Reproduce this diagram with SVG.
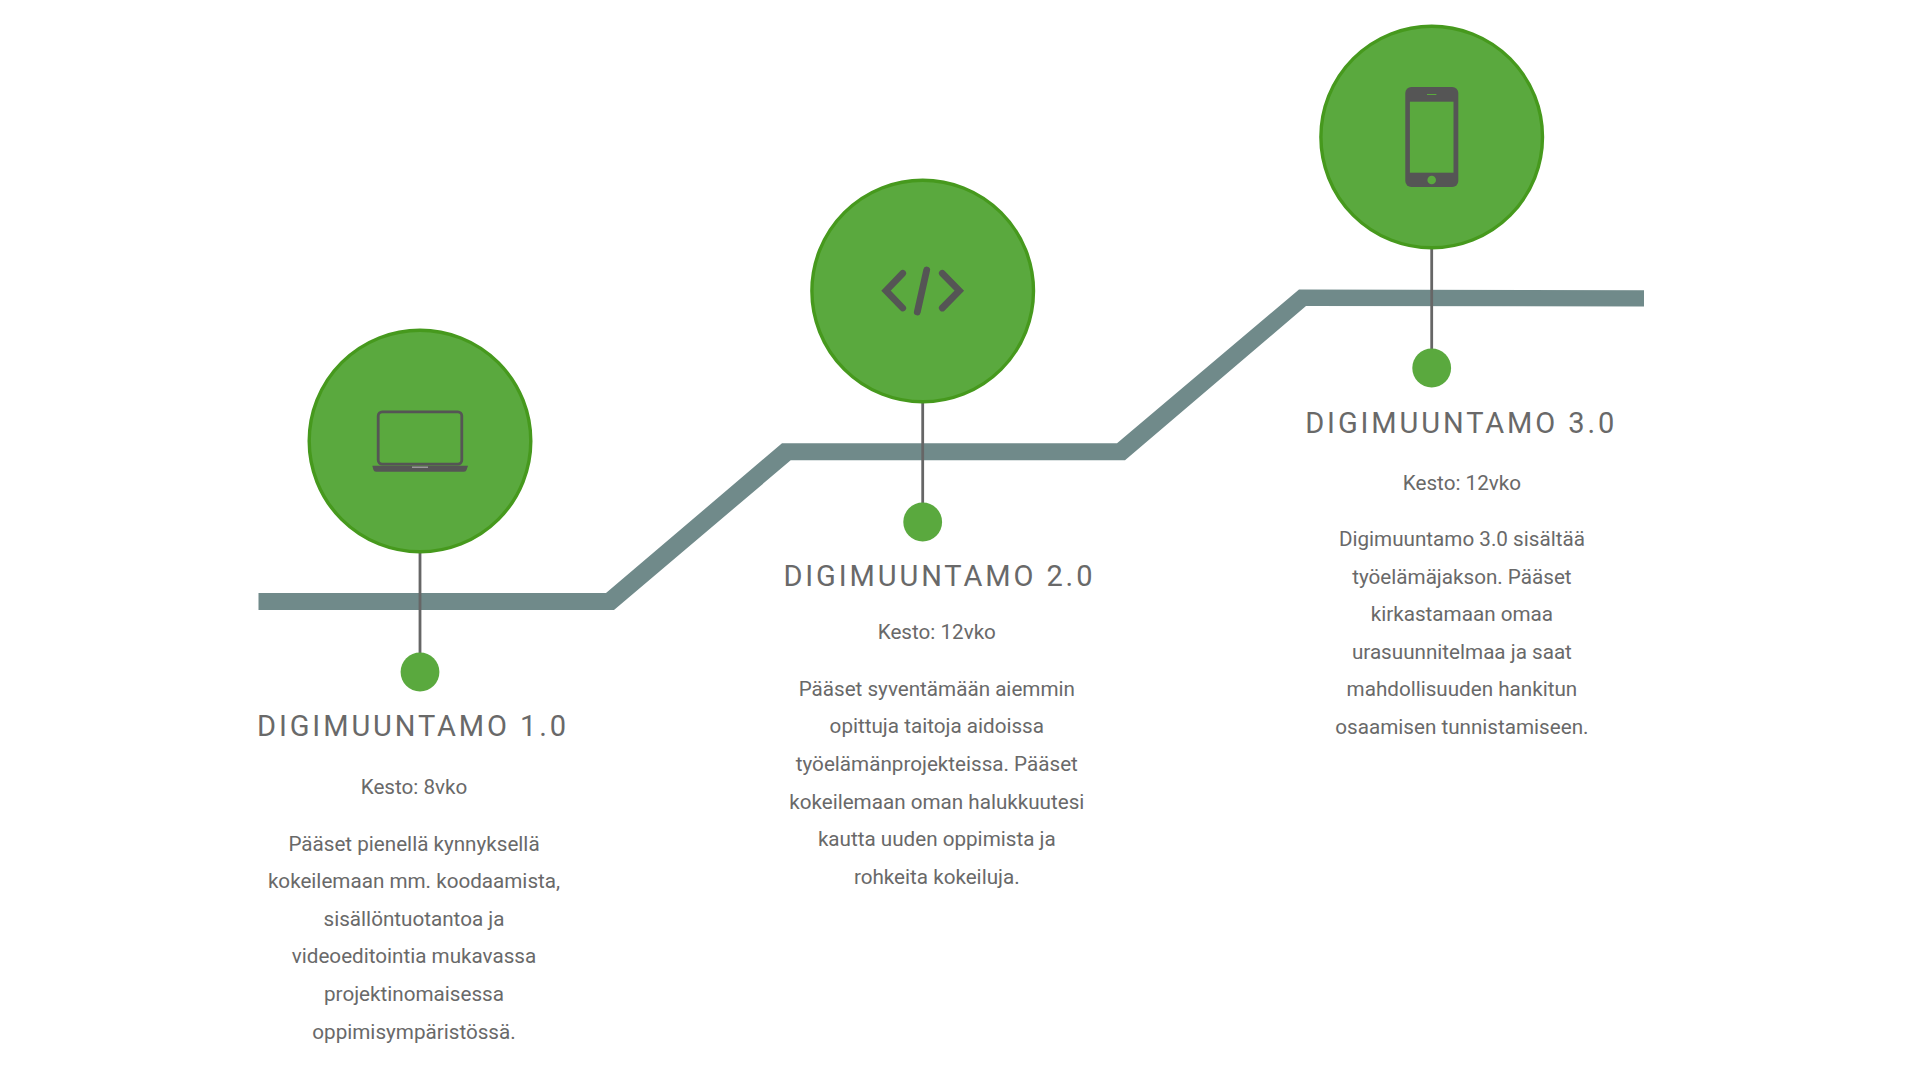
<svg xmlns="http://www.w3.org/2000/svg" width="1920" height="1080" viewBox="0 0 1920 1080">
<style>
.big{fill:#5aa93e;stroke:#46991d;stroke-width:3.4}
.dot{fill:#5aa93e}
.stem{stroke:#666;stroke-width:2.8;fill:none}
.h{font-family:Roboto,"Liberation Sans",sans-serif;font-size:29px;letter-spacing:2.9px;fill:#696969}
.t{font-family:Roboto,"Liberation Sans",sans-serif;font-size:20.65px;fill:#696969;text-anchor:middle}
.ic{fill:#555}
.ics{fill:none;stroke:#555;stroke-width:6.8;stroke-linecap:round;stroke-linejoin:miter}
</style>
<rect width="1920" height="1080" fill="#fff"/>
<polygon id="timeline" fill="#708a8a" points="258.5,593 606,593 782,443.3 1117,443.3 1299,289.5 1644,290.3 1644,306.5 1306,306 1125,460.3 790.7,460.3 614,610 258.5,610"/>
<g id="connectors">
<line class="stem" x1="420" y1="552" x2="420" y2="655"/>
<line class="stem" x1="922.7" y1="402" x2="922.7" y2="505"/>
<line class="stem" x1="1431.7" y1="248" x2="1431.7" y2="351"/>
</g>
<g id="node1">
<circle class="big" cx="420" cy="441" r="110.8"/>
<rect x="378.2" y="411.9" width="83.6" height="52.2" rx="4" fill="none" stroke="#555" stroke-width="2.8"/>
<path class="ic" d="M372.3 465.7H468L466.5 470Q466 471.7 464 471.7H376Q374 471.7 373.5 470Z"/>
<rect x="412" y="466.6" width="16" height="1.2" fill="#aaa"/>
<circle class="dot" cx="420" cy="672" r="19.4"/>
<text class="h" x="257" y="736.4">DIGIMUUNTAMO 1.0</text>
<text class="t" x="414" y="794.3">Kesto: 8vko</text>
<text class="t" x="414" y="850.7">Pääset pienellä kynnyksellä</text>
<text class="t" x="414" y="888.3">kokeilemaan mm. koodaamista,</text>
<text class="t" x="414" y="925.9">sisällöntuotantoa ja</text>
<text class="t" x="414" y="963.3">videoeditointia mukavassa</text>
<text class="t" x="414" y="1001.1">projektinomaisessa</text>
<text class="t" x="414" y="1038.5">oppimisympäristössä.</text>
</g>
<g id="node2">
<circle class="big" cx="922.7" cy="291" r="110.8"/>
<path class="ics" d="M902.7 273.3L886 290.7L902.7 308M942.3 273.3L959.3 290.7L942.3 308M926.7 270L917.3 312"/>
<circle class="dot" cx="922.7" cy="522" r="19.4"/>
<text class="h" x="783.4" y="586.2">DIGIMUUNTAMO 2.0</text>
<text class="t" x="936.8" y="639.4">Kesto: 12vko</text>
<text class="t" x="936.8" y="695.7">Pääset syventämään aiemmin</text>
<text class="t" x="936.8" y="733.3">opittuja taitoja aidoissa</text>
<text class="t" x="936.8" y="770.9">työelämänprojekteissa. Pääset</text>
<text class="t" x="936.8" y="808.5">kokeilemaan oman halukkuutesi</text>
<text class="t" x="936.8" y="846.1">kautta uuden oppimista ja</text>
<text class="t" x="936.8" y="883.7">rohkeita kokeiluja.</text>
</g>
<g id="node3">
<circle class="big" cx="1431.7" cy="137" r="110.8"/>
<rect class="ic" x="1405.3" y="87" width="53" height="100" rx="6"/>
<rect class="dot" x="1409.9" y="101.7" width="43.6" height="71"/>
<circle class="dot" cx="1431.7" cy="180" r="4.3"/>
<rect class="dot" x="1427" y="94" width="9.4" height="1"/>
<circle class="dot" cx="1431.7" cy="368" r="19.4"/>
<text class="h" x="1305.2" y="432.8">DIGIMUUNTAMO 3.0</text>
<text class="t" x="1461.9" y="489.6">Kesto: 12vko</text>
<text class="t" x="1461.9" y="545.7">Digimuuntamo 3.0 sisältää</text>
<text class="t" x="1461.9" y="583.5">työelämäjakson. Pääset</text>
<text class="t" x="1461.9" y="620.9">kirkastamaan omaa</text>
<text class="t" x="1461.9" y="658.5">urasuunnitelmaa ja saat</text>
<text class="t" x="1461.9" y="696.1">mahdollisuuden hankitun</text>
<text class="t" x="1461.9" y="733.7">osaamisen tunnistamiseen.</text>
</g>
</svg>
